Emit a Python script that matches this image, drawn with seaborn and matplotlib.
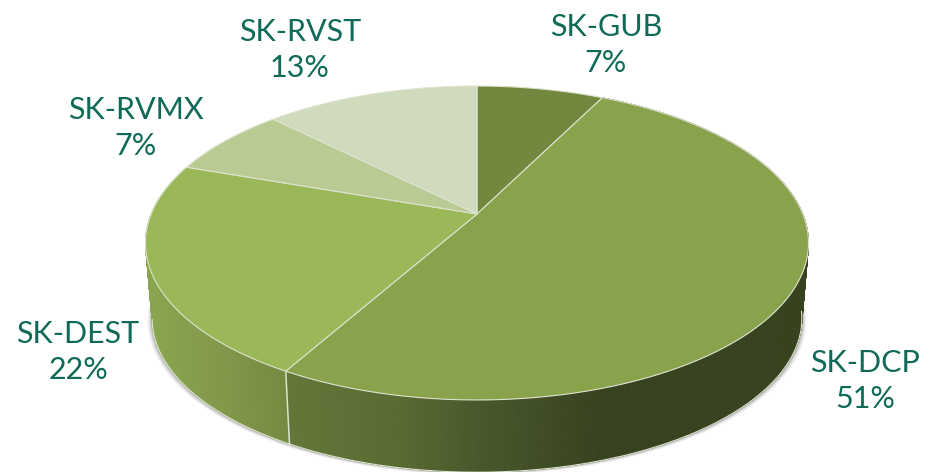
import matplotlib
matplotlib.use("Agg")
import matplotlib.pyplot as plt
import numpy as np
import seaborn as sns

# ── Data ──────────────────────────────────────────────────────────────────────
names  = ["SK-GUB", "SK-DCP", "SK-DEST", "SK-RVMX", "SK-RVST"]
shares = [7.4, 50.8, 22.1, 7.2, 12.5]   # slice sizes
labels = ["7%", "51%", "22%", "7%", "13%"]

# ── Style ─────────────────────────────────────────────────────────────────────
TOP_COLORS = ["#73883F", "#89A24C", "#9AB858", "#B9CB93", "#D0DABD"]
WALL_STOPS = {
    "SK-DCP":  ["#63773A", "#5A6B32", "#46552A", "#37421F", "#37421F", "#37421F"],
    "SK-DEST": ["#8AA54F", "#82994A", "#758A41"],
}
RIM  = "#DDE3CF"
TEXT = "#0F6B58"

sns.set_theme(style="white")
plt.rcParams["font.family"] = ["Lato", "DejaVu Sans"]

# pie geometry in pixels: apex, perspective and wall depth
APEX_X, APEX_Y = 477, 214
R, Q, K = 325.8, 151.6, 0.1847
DEPTH, WALL_SCALE = 76, 0.98


def project(frac, scale=1.0, drop=0.0):
    """Pie fraction (clockwise from 12 o'clock) to picture pixels."""
    ang = 2 * np.pi * np.asarray(frac)
    u, v = np.sin(ang), np.cos(ang)
    w = 1 + K * v
    return APEX_X + scale * R * u / w, APEX_Y - scale * Q * v / w + drop


fig = plt.figure(figsize=(9.25, 4.72), dpi=100)
ax = fig.add_axes([0, 0, 1, 1])
ax.set_xlim(0, 925)
ax.set_ylim(472, 0)
ax.axis("off")

edges = np.cumsum([0] + shares) / sum(shares)

# soft shadow under the wall
ring = np.linspace(0, 1, 361)
for grow, alpha in zip([4.5, 3.5, 2.5, 1.5], [0.06, 0.09, 0.12, 0.18]):
    sx, sy = project(ring, WALL_SCALE, DEPTH + grow * 0.6)
    sx = APEX_X + (sx - APEX_X) * (1 + grow / 325)
    ax.fill(sx, sy, color="#555555", alpha=alpha, lw=0, zorder=1)

# side wall, only the two front slices show a gradient
for i, name in enumerate(names):
    start, end = edges[i], edges[i + 1]
    steps = max(int((end - start) * 800), 2)
    fr = np.linspace(start, end, steps + 1)
    stops = WALL_STOPS.get(name)
    x0, y0 = project(fr)
    x1, y1 = project(fr, WALL_SCALE, DEPTH)
    if stops is None:
        ax.fill(np.r_[x0, x1[::-1]], np.r_[y0, y1[::-1]], color=TOP_COLORS[i], lw=0, zorder=2)
        continue
    grad = sns.blend_palette(stops, n_colors=256)
    # seam on the left for the big slice, left rim to seam for the other
    lo, hi = (285, 808) if name == "SK-DCP" else (146, 285)
    for j in range(steps):
        t = np.clip((0.5 * (x0[j] + x0[j + 1]) - lo) / (hi - lo), 0, 1)
        c = grad[int(t * 255)]
        ax.fill([x0[j], x0[j + 1], x1[j + 1], x1[j]],
                [y0[j], y0[j + 1], y1[j + 1], y1[j]],
                facecolor=c, edgecolor=c, lw=0.6, zorder=2)

# bottom rim and the seam between the two front slices
front = ring[(ring > 0.27) & (ring < 0.72)]
bx, by = project(front, WALL_SCALE, DEPTH)
ax.plot(bx, by, color=RIM, lw=0.8, zorder=3)
seam_x0, seam_y0 = project(edges[2])
seam_x1, seam_y1 = project(edges[2], WALL_SCALE, DEPTH + 1)
ax.plot([seam_x0, seam_x1], [seam_y0, seam_y1], color=RIM, lw=1.1, zorder=3)

# top face
for i, name in enumerate(names):
    fr = np.linspace(edges[i], edges[i + 1], 200)
    x, y = project(fr)
    ax.fill(np.r_[APEX_X, x], np.r_[APEX_Y, y], facecolor=TOP_COLORS[i],
            edgecolor=RIM, lw=0.8, joinstyle="round", zorder=4)

# labels, centre of the two-line block
label_x = [606, 865, 78, 136, 300]
label_y = [45, 381, 352, 128, 50]
for name, pct, lx, ly in zip(names, labels, label_x, label_y):
    ax.text(lx, ly, f"{name}\n{pct}", ha="center", va="center",
            fontsize=22, color=TEXT, linespacing=1.38, zorder=5)

plt.savefig("out.png", dpi=100)
plt.close()
